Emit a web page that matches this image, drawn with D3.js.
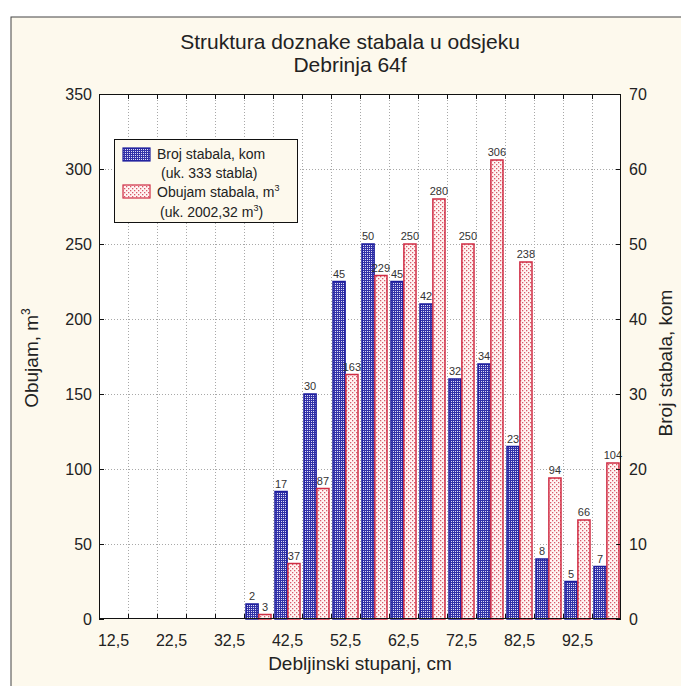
<!DOCTYPE html>
<html>
<head>
<meta charset="utf-8">
<script src="https://cdn.jsdelivr.net/npm/d3@7"></script>
<style>
  html, body { margin: 0; padding: 0; background: #ffffff; }
  svg { display: block; font-family: "Liberation Sans", Arial, sans-serif; }
</style>
</head>
<body>
<svg id="chart" width="681" height="686"></svg>
<script>
// ---- data ----
const categories = ["12,5","17,5","22,5","27,5","32,5","37,5","42,5","47,5","52,5","57,5","62,5","67,5","72,5","77,5","82,5","87,5","92,5","97,5"];
const tickLabels = ["12,5","22,5","32,5","42,5","52,5","62,5","72,5","82,5","92,5"];
const brojStabala = [0,0,0,0,0,2,17,30,45,50,45,42,32,34,23,8,5,7];          // right axis, kom
const obujamStabala = [0,0,0,0,0,3,37,87,163,229,250,280,250,306,238,94,66,104]; // left axis, m3
const leftTicks = [0,50,100,150,200,250,300,350];
const rightTicks = [0,10,20,30,40,50,60,70];

// ---- layout ----
const svg = d3.select("#chart");
const L = 99, R = 621, T = 94, B = 619;
const bg = "#fdf9ed";

// defs / patterns
const defs = svg.append("defs");
const pb = defs.append("pattern").attr("id","patBlue").attr("patternUnits","userSpaceOnUse")
  .attr("width",2).attr("height",2);
pb.append("rect").attr("width",2).attr("height",2).attr("fill","#3232a8");
pb.append("rect").attr("x",1).attr("y",1).attr("width",1).attr("height",1).attr("fill","#dcdcf6");
const pr = defs.append("pattern").attr("id","patRed").attr("patternUnits","userSpaceOnUse")
  .attr("width",4).attr("height",4);
pr.append("rect").attr("width",4).attr("height",4).attr("fill","#fff6f4");
pr.append("rect").attr("x",0).attr("y",0).attr("width",1.3).attr("height",1.3).attr("fill","#d85a6a");
pr.append("rect").attr("x",2).attr("y",2).attr("width",1.3).attr("height",1.3).attr("fill","#d85a6a");

// frame
svg.append("rect").attr("x",11).attr("y",17).attr("width",720).attr("height",720)
  .attr("fill",bg).attr("stroke","#444").attr("stroke-width",1);

// plot bg
svg.append("rect").attr("x",L).attr("y",T).attr("width",R-L).attr("height",B-T).attr("fill","#ffffff");

// scales
const x = d3.scaleBand().domain(categories).range([L,R]).paddingInner(0).paddingOuter(0);
const inner = d3.scaleBand().domain(["broj","obujam"]).range([2, x.bandwidth()-2]).paddingInner(0.06);
const yL = d3.scaleLinear().domain([0,350]).range([B,T]);
const yR = d3.scaleLinear().domain([0,70]).range([B,T]);

// gridlines
const boundaries = categories.map(c => x(c)).slice(1);
svg.append("g").selectAll("line").data(boundaries).join("line")
  .attr("x1",d=>d+0.5).attr("x2",d=>d+0.5).attr("y1",T).attr("y2",B)
  .attr("stroke","#a8a8a8").attr("stroke-dasharray","1,2").attr("stroke-width",1);
svg.append("g").selectAll("line").data(leftTicks.slice(1,-1)).join("line")
  .attr("x1",L).attr("x2",R).attr("y1",d=>Math.round(yL(d))+0.5).attr("y2",d=>Math.round(yL(d))+0.5)
  .attr("stroke","#a8a8a8").attr("stroke-dasharray","1,2").attr("stroke-width",1);

// bars
const rows = categories.map((c,i)=>({c, broj: brojStabala[i], obujam: obujamStabala[i]}));
const gBars = svg.append("g");
gBars.selectAll("rect.b").data(rows.filter(d=>d.broj>0)).join("rect")
  .attr("class","b")
  .attr("x",d=>x(d.c)+inner("broj")).attr("width",inner.bandwidth())
  .attr("y",d=>yR(d.broj)).attr("height",d=>B-yR(d.broj))
  .attr("fill","url(#patBlue)").attr("stroke","#1c1c9c").attr("stroke-width",1.5);
gBars.selectAll("rect.o").data(rows.filter(d=>d.obujam>0)).join("rect")
  .attr("class","o")
  .attr("x",d=>x(d.c)+inner("obujam")).attr("width",inner.bandwidth())
  .attr("y",d=>yL(d.obujam)).attr("height",d=>B-yL(d.obujam))
  .attr("fill","url(#patRed)").attr("stroke","#d02c44").attr("stroke-width",1.5);

// bar labels
const gLab = svg.append("g").attr("font-size",11).attr("fill","#333").attr("text-anchor","middle");
gLab.selectAll("text.b").data(rows.filter(d=>d.broj>0)).join("text")
  .attr("x",d=>x(d.c)+inner("broj")+inner.bandwidth()/2).attr("y",d=>yR(d.broj)-4)
  .text(d=>d.broj);
gLab.selectAll("text.o").data(rows.filter(d=>d.obujam>0)).join("text")
  .attr("x",d=>x(d.c)+inner("obujam")+inner.bandwidth()/2).attr("y",d=>yL(d.obujam)-4)
  .text(d=>d.obujam);

// plot border
svg.append("rect").attr("x",L+0.5).attr("y",T+0.5).attr("width",R-L-1).attr("height",B-T-1)
  .attr("fill","none").attr("stroke","#111").attr("stroke-width",1);

// inward ticks
const allBounds = categories.map(c => x(c)).concat([R]);
const gT = svg.append("g").attr("stroke","#111").attr("stroke-width",1);
gT.selectAll("line.tt").data(allBounds.slice(1,-1)).join("line")
  .attr("x1",d=>d+0.5).attr("x2",d=>d+0.5).attr("y1",T).attr("y2",T+5);
gT.selectAll("line.tb").data(allBounds.slice(1,-1)).join("line")
  .attr("x1",d=>d+0.5).attr("x2",d=>d+0.5).attr("y1",B).attr("y2",B-5);
gT.selectAll("line.tl").data(leftTicks).join("line")
  .attr("x1",L).attr("x2",L+5).attr("y1",d=>Math.round(yL(d))+0.5).attr("y2",d=>Math.round(yL(d))+0.5);
gT.selectAll("line.tr").data(rightTicks).join("line")
  .attr("x1",R).attr("x2",R-5).attr("y1",d=>Math.round(yR(d))+0.5).attr("y2",d=>Math.round(yR(d))+0.5);

// tick labels
const gTL = svg.append("g").attr("font-size",16).attr("fill","#222");
gTL.selectAll("text.l").data(leftTicks).join("text")
  .attr("x",L-7).attr("y",d=>yL(d)+6).attr("text-anchor","end").text(d=>d);
gTL.selectAll("text.r").data(rightTicks).join("text")
  .attr("x",R+8).attr("y",d=>yR(d)+6).attr("text-anchor","start").text(d=>d);
gTL.selectAll("text.x").data(tickLabels).join("text")
  .attr("x",d=>x(d)+x.bandwidth()/2).attr("y",B+27).attr("text-anchor","middle").text(d=>d);

// titles
const gTi = svg.append("g").attr("fill","#222").attr("text-anchor","middle");
gTi.append("text").attr("x",350).attr("y",49).attr("font-size",21).text("Struktura doznake stabala u odsjeku");
gTi.append("text").attr("x",350).attr("y",72).attr("font-size",21).text("Debrinja 64f");
gTi.append("text").attr("x",360).attr("y",670).attr("font-size",19).text("Debljinski stupanj, cm");
const yt = gTi.append("text").attr("transform","translate(38,358) rotate(-90)").attr("font-size",19);
yt.append("tspan").text("Obujam, m");
yt.append("tspan").attr("font-size",12).attr("dy",-8).text("3");
gTi.append("text").attr("transform","translate(672,363) rotate(-90)").attr("font-size",19).text("Broj stabala, kom");

// legend
const lg = svg.append("g");
lg.append("rect").attr("x",114.5).attr("y",139.5).attr("width",183).attr("height",83)
  .attr("fill",bg).attr("stroke","#111").attr("stroke-width",1);
lg.append("rect").attr("x",123).attr("y",148).attr("width",27).attr("height",13)
  .attr("fill","url(#patBlue)").attr("stroke","#1c1c9c").attr("stroke-width",1.2);
lg.append("rect").attr("x",123).attr("y",185).attr("width",27).attr("height",13)
  .attr("fill","url(#patRed)").attr("stroke","#d02c44").attr("stroke-width",1.2);
const lt = lg.append("g").attr("font-size",14).attr("fill","#222");
lt.append("text").attr("x",157).attr("y",159).text("Broj stabala, kom");
lt.append("text").attr("x",161).attr("y",178).text("(uk. 333 stabla)");
const l3 = lt.append("text").attr("x",157).attr("y",197);
l3.append("tspan").text("Obujam stabala, m");
l3.append("tspan").attr("font-size",9).attr("dy",-6).text("3");
const l4 = lt.append("text").attr("x",160).attr("y",217);
l4.append("tspan").text("(uk. 2002,32 m");
l4.append("tspan").attr("font-size",9).attr("dy",-6).text("3");
l4.append("tspan").attr("dy",6).text(")");
</script>
</body>
</html>
